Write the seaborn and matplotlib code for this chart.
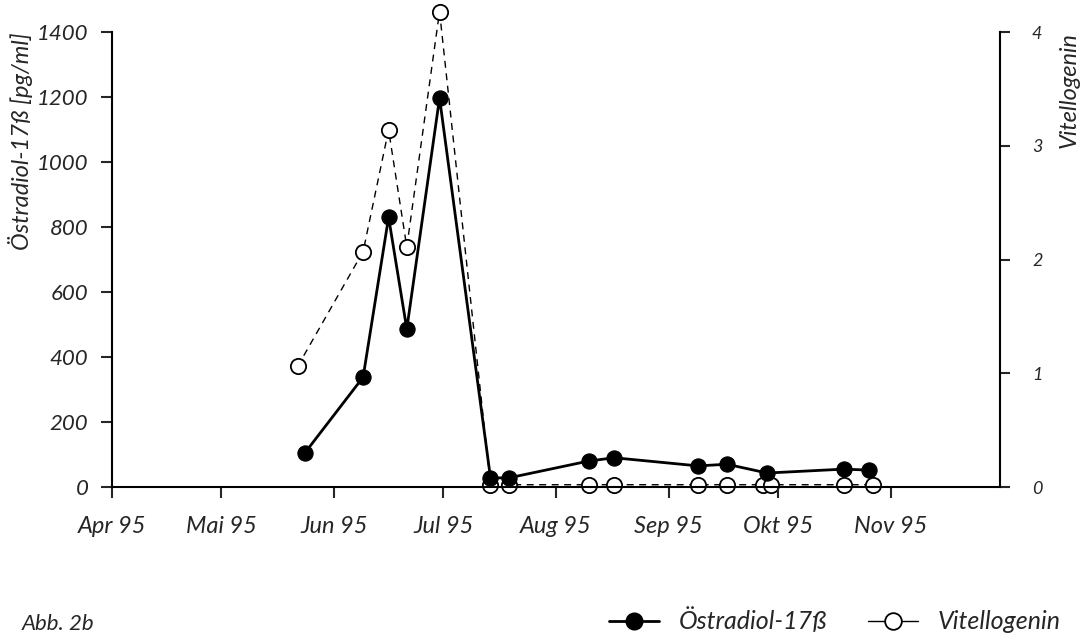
import pandas as pd
import seaborn as sns
import matplotlib.pyplot as plt
from matplotlib.lines import Line2D

# Östradiol-17ß (pg/ml), left axis
e2_dates = ["1995-05-24", "1995-06-09", "1995-06-16", "1995-06-21", "1995-06-30",
            "1995-07-14", "1995-07-19", "1995-08-10", "1995-08-17", "1995-09-09",
            "1995-09-17", "1995-09-28", "1995-10-19", "1995-10-26"]
e2_values = [105, 338, 830, 486, 1197, 28, 28, 80, 90, 65, 70, 43, 55, 52]

# Vitellogenin, right axis
vtg_dates = ["1995-05-22", "1995-06-09", "1995-06-16", "1995-06-21", "1995-06-30",
             "1995-07-14", "1995-07-19", "1995-08-10", "1995-08-17", "1995-09-09",
             "1995-09-17", "1995-09-27", "1995-09-29", "1995-10-19", "1995-10-27"]
vtg_values = [1.06, 2.07, 3.14, 2.11, 4.18, 0.02, 0.02, 0.02, 0.02, 0.02,
              0.02, 0.02, 0.02, 0.02, 0.02]

month_starts = ["1995-04-01", "1995-05-01", "1995-06-01", "1995-07-01",
                "1995-08-01", "1995-09-01", "1995-10-01", "1995-11-01"]
month_labels = ["Apr 95", "Mai 95", "Jun 95", "Jul 95", "Aug 95", "Sep 95", "Okt 95", "Nov 95"]
left_ticks = [0, 200, 400, 600, 800, 1000, 1200, 1400]
right_ticks = [0, 1, 2, 3, 4]

df_e2 = pd.DataFrame({"date": pd.to_datetime(e2_dates), "value": e2_values})
df_vtg = pd.DataFrame({"date": pd.to_datetime(vtg_dates), "value": vtg_values})

sns.set_style("ticks")
plt.rcParams["font.family"] = ["Lato", "DejaVu Sans"]
plt.rcParams["font.style"] = "italic"

fig = plt.figure(figsize=(10.83, 6.43), dpi=100)
ax = fig.add_axes([0.1034, 0.2426, 0.8200, 0.7076])
ax2 = ax.twinx()

sns.lineplot(data=df_vtg, x="date", y="value", ax=ax2, color="black",
             linewidth=1.0, linestyle=(0, (5, 4)), marker="o", markersize=11,
             markerfacecolor="white", markeredgecolor="black", markeredgewidth=1.3,
             estimator=None, sort=False)
sns.lineplot(data=df_e2, x="date", y="value", ax=ax, color="black",
             linewidth=2.0, marker="o", markersize=11,
             markerfacecolor="black", markeredgecolor="black",
             estimator=None, sort=False)

for a in (ax, ax2):
    for l in a.lines:
        l.set_clip_on(False)

ax.set_zorder(ax2.get_zorder() + 1)
ax.patch.set_visible(False)

ax.set_xlim(pd.Timestamp("1995-04-01"), pd.Timestamp("1995-12-01"))
ax.set_ylim(0, 1400)
ax2.set_ylim(0, 4)

ax.set_xticks(pd.to_datetime(month_starts))
ax.set_xticklabels(month_labels, fontsize=17)
ax.set_yticks(left_ticks)
ax.set_yticklabels([str(v) for v in left_ticks], fontsize=16)
ax2.set_yticks(right_ticks)
ax2.set_yticklabels([str(v) for v in right_ticks], fontsize=13)

ax.tick_params(axis="x", length=8, width=1.5, pad=13)
ax.tick_params(axis="y", length=8, width=1.5, pad=9)
ax2.tick_params(axis="y", length=7, width=1.5, pad=16)

for a in (ax, ax2):
    a.spines["top"].set_visible(False)
    for s in ("left", "right", "bottom"):
        a.spines[s].set_linewidth(1.5)
        a.spines[s].set_color("black")
ax.spines["right"].set_visible(False)
ax2.spines["left"].set_visible(False)
ax2.spines["bottom"].set_visible(False)

ax.set_xlabel("")
ax.set_ylabel("Östradiol-17ß [pg/ml]", fontsize=17, loc="top", labelpad=3)
ax2.set_ylabel("Vitellogenin", fontsize=17, loc="top", labelpad=12)

fig.text(0.02, 0.02, "Abb. 2b", fontsize=16, style="italic")

handles = [
    Line2D([], [], color="black", linewidth=2.0, marker="o", markersize=12,
           markerfacecolor="black"),
    Line2D([], [], color="black", linewidth=1.0, marker="o", markersize=12,
           markerfacecolor="white", markeredgewidth=1.3),
]
fig.legend(handles, ["Östradiol-17ß", "Vitellogenin"], loc="lower right",
           bbox_to_anchor=(1.0, -0.02), ncol=2, frameon=False, fontsize=18,
           handlelength=2.0, columnspacing=1.6)

plt.savefig("out.png", dpi=100)
plt.close()
